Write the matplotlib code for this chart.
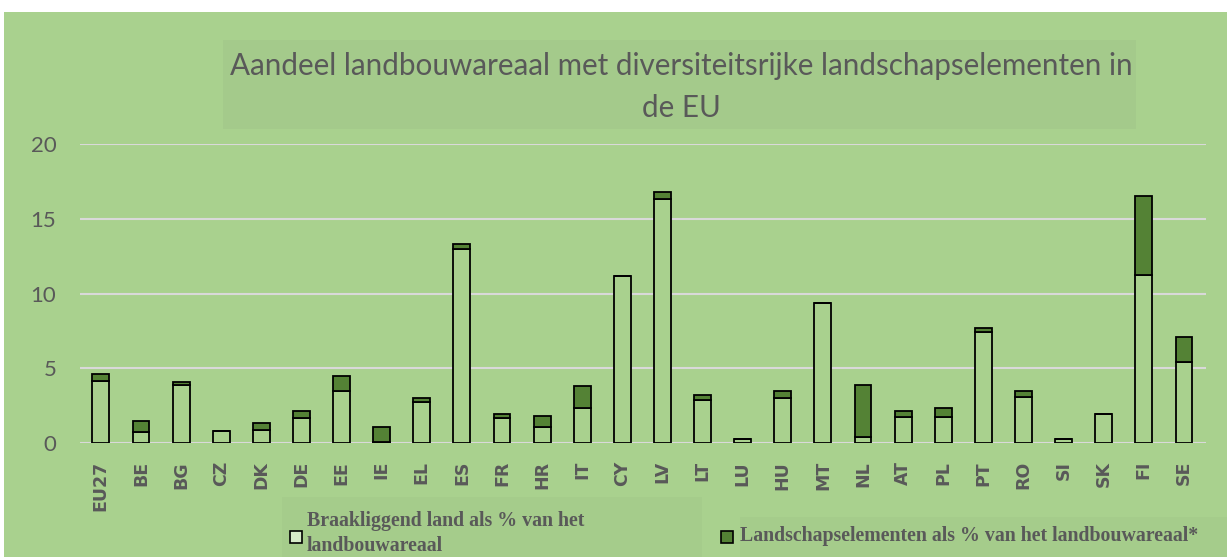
import matplotlib
matplotlib.use('Agg')
import matplotlib.pyplot as plt
import matplotlib.patches as mpatches
import numpy as np

# data
landen = ['EU27', 'BE', 'BG', 'CZ', 'DK', 'DE', 'EE', 'IE', 'EL', 'ES', 'FR', 'HR', 'IT', 'CY',
          'LV', 'LT', 'LU', 'HU', 'MT', 'NL', 'AT', 'PL', 'PT', 'RO', 'SI', 'SK', 'FI', 'SE']
braak = [4.15, 0.75, 3.85, 0.8, 0.85, 1.65, 3.45, 0.1, 2.75, 13.0, 1.65, 1.1, 2.35, 11.15,
         16.3, 2.9, 0.25, 3.0, 9.35, 0.4, 1.75, 1.75, 7.4, 3.05, 0.25, 1.95, 11.25, 5.4]
landschap = [0.45, 0.7, 0.25, 0.0, 0.5, 0.5, 1.0, 1.0, 0.25, 0.3, 0.3, 0.7, 1.45, 0.0,
             0.5, 0.3, 0.0, 0.5, 0.0, 3.5, 0.4, 0.6, 0.3, 0.45, 0.0, 0.0, 5.3, 1.7]
yticks = [0, 5, 10, 15, 20]

bg = '#a9d18e'
donker = '#548235'
grijs = '#595959'

fig = plt.figure(figsize=(12.27, 5.57), dpi=100)
fig.patch.set_facecolor('white')
# green chart area with a thin white border top/left
fig.patches.append(mpatches.Rectangle((4 / 1227, 0), 1, 1 - 12 / 557, transform=fig.transFigure,
                                      facecolor=bg, edgecolor='none', zorder=0))
# title box and legend boxes, slightly darker
fig.patches.append(mpatches.Rectangle((223 / 1227, 1 - 129 / 557), 913 / 1227, 89 / 557,
                                      transform=fig.transFigure, facecolor='#a4ca8b',
                                      edgecolor='none', zorder=0.5))
fig.patches.append(mpatches.Rectangle((282 / 1227, 0), 420 / 1227, 60 / 557, transform=fig.transFigure,
                                      facecolor='#a5cc8b', edgecolor='none', zorder=0.5))
fig.patches.append(mpatches.Rectangle((740 / 1227, 0), 487 / 1227, 40 / 557, transform=fig.transFigure,
                                      facecolor='#a5cc8b', edgecolor='none', zorder=0.5))

ax = fig.add_axes([80 / 1227, 1 - 443 / 557, 1126 / 1227, 299 / 557])
ax.set_zorder(2)
ax.set_facecolor('none')

x = np.arange(len(landen))
ax.bar(x, braak, width=0.42, color=bg, edgecolor='black', linewidth=1.3, zorder=3)
ax.bar(x, landschap, width=0.42, bottom=braak, color=donker, edgecolor='black', linewidth=1.3, zorder=3)

ax.set_xlim(-0.52, len(landen) - 0.45)
ax.set_ylim(0, 20)
ax.set_yticks(yticks)
ax.grid(axis='y', color='#d9d9d9', linewidth=1.5, zorder=1)
for s in ax.spines.values():
    s.set_visible(False)
ax.tick_params(length=0)
ax.set_xticks(x)
ax.set_xticklabels(landen, rotation=90, fontsize=12.5, fontweight='bold', color=grijs, family='DejaVu Sans')
ax.tick_params(axis='x', pad=13)
for lab in ax.get_yticklabels():
    lab.set_fontsize(16)
    lab.set_color(grijs)
    lab.set_family('Lato')
ax.tick_params(axis='y', pad=17)

fig.text(681 / 1227, 1 - 66 / 557, 'Aandeel landbouwareaal met diversiteitsrijke landschapselementen in',
         ha='center', va='center', fontsize=21.3, color=grijs, family='Lato')
fig.text(681 / 1227, 1 - 108 / 557, 'de EU', ha='center', va='center', fontsize=21.3, color=grijs, family='Lato')

# legend
fig.patches.append(mpatches.Rectangle((290 / 1227, 1 - 543 / 557), 12 / 1227, 12 / 557, transform=fig.transFigure,
                                      facecolor='#d6ebc8', edgecolor='black', linewidth=1.2, zorder=2))
fig.patches.append(mpatches.Rectangle((721 / 1227, 1 - 543 / 557), 12 / 1227, 12 / 557, transform=fig.transFigure,
                                      facecolor=donker, edgecolor='black', linewidth=1.2, zorder=2))
fig.text(307 / 1227, 1 - 521 / 557, 'Braakliggend land als % van het', ha='left', va='center',
         fontsize=14.3, fontweight='bold', color=grijs, family='Liberation Serif')
fig.text(307 / 1227, 1 - 546 / 557, 'landbouwareaal', ha='left', va='center',
         fontsize=14.3, fontweight='bold', color=grijs, family='Liberation Serif')
fig.text(740 / 1227, 1 - 536 / 557, 'Landschapselementen als % van het landbouwareaal*', ha='left', va='center',
         fontsize=14.3, fontweight='bold', color=grijs, family='Liberation Serif')

fig.savefig('out.png', dpi=100, facecolor=fig.get_facecolor())
